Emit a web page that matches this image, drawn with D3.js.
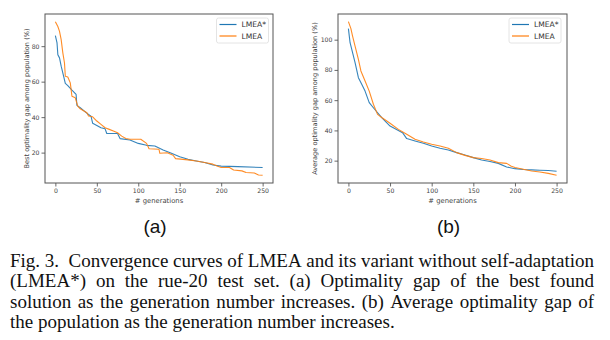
<!DOCTYPE html>
<html><head><meta charset="utf-8">
<script src="https://cdn.jsdelivr.net/npm/d3@7"></script>
<style>
body{margin:0;background:#fff;}
svg{display:block;}
</style></head>
<body>
<svg id="fig" width="610" height="340"></svg>
<script>
// ---------- data ----------
const seriesNames = ["LMEA*", "LMEA"];
const xTicks = [0, 50, 100, 150, 200, 250];
const yTicksA = [20, 40, 60, 80];
const yTicksB = [20, 40, 60, 80, 100];
// (a) best optimality gap  [generation, value]
const bestLMEAstar = [[0,85.9],[2,81.8],[3,75.2],[5,73.4],[7,68.7],[10,63],[12,59],[15,57.8],[20,55.2],[25,52.8],[26,46.6],[30,45.3],[35,43.4],[40,41.5],[43,40.5],[45,36.5],[50,35.3],[55,34],[60,33.4],[62,30.8],[75,30.8],[78,27.9],[90,27.1],[100,25.2],[110,24.1],[120,23.7],[130,21.5],[140,19.6],[150,17.7],[160,16.2],[170,15.3],[180,14.4],[190,13],[200,12.4],[220,12.1],[250,11.6]];
const bestLMEA = [[0,93.8],[3,91.1],[5,88.3],[7,83.7],[9,76.2],[11,70.5],[12,63],[15,62.6],[18,59.3],[20,51.8],[24,50.9],[27,46.2],[30,44.7],[38,42.5],[40,40.6],[45,40.2],[50,37.8],[55,35.9],[60,34],[65,33.1],[70,32.2],[75,31.2],[80,29.3],[85,28],[90,27.5],[103,27.5],[110,25.2],[113,22.2],[125,21.9],[126,19.6],[135,19.9],[142,18.5],[145,16.6],[160,15.9],[170,15.3],[180,14.4],[190,13.5],[195,12.5],[200,11.6],[210,11.6],[215,10.2],[225,9.7],[230,8.8],[240,8.5],[245,7.4],[250,7.2]];
// (b) average optimality gap
const avgLMEAstar = [[0,107.3],[2,98],[5,91.4],[8,84.8],[12,74.9],[16,70.5],[20,66],[25,58.4],[30,55],[40,48.5],[50,42.9],[60,40],[65,38.5],[70,34.6],[80,33],[90,31.5],[100,29.7],[110,28.2],[120,27],[130,25.3],[140,23.7],[150,22],[160,20.4],[170,19.4],[180,18.2],[190,15.8],[200,14.7],[210,14.1],[220,13.9],[230,13.7],[240,13.5],[250,13]];
const avgLMEA = [[0,111.9],[3,107.3],[5,102.4],[8,95.8],[12,87],[15,79.3],[20,72.7],[25,66],[30,57.3],[35,50.6],[40,48.5],[50,44.7],[60,40.7],[70,37.4],[80,34.1],[90,32.3],[100,30.8],[110,29.7],[120,28.2],[130,25.3],[140,23.5],[150,22],[160,21.4],[170,20.4],[180,18.7],[190,18.2],[195,16.5],[200,15.5],[210,14.3],[220,13.2],[230,12.5],[240,11.6],[250,10.3]];
const xLabel = "# generations";
const yLabelA = "Best optimality gap among population (%)";
const yLabelB = "Average optimality gap among population (%)";
const subLabels = ["(a)", "(b)"];
const captionLines = [
  "Fig. 3.\u00a0\u00a0Convergence curves of LMEA and its variant without self-adaptation",
  "(LMEA*) on the rue-20 test set. (a) Optimality gap of the best found",
  "solution as the generation number increases. (b) Average optimality gap of",
  "the population as the generation number increases."
];
const colors = ["#1f77b4", "#ff7f0e"];

// ---------- drawing ----------
const svg = d3.select("#fig");
const tickFont = "DejaVu Sans, sans-serif";

function panel(cfg) {
  const g = svg.append("g");
  const {left, right, top, bottom} = cfg.box;
  const all = cfg.series.flat();
  const ext = d3.extent(all, d => d[1]);
  const pad = (ext[1] - ext[0]) * 0.05;
  const x = d3.scaleLinear().domain([-12.5, 262.5]).range([left, right]);
  const y = d3.scaleLinear().domain([ext[0] - pad, ext[1] + pad]).range([bottom, top]);

  const xAxis = d3.axisBottom(x).tickValues(xTicks).tickSize(3.5).tickPadding(2);
  const yAxis = d3.axisLeft(y).tickValues(cfg.yTicks).tickSize(3.5).tickPadding(2);
  const gx = g.append("g").attr("transform", `translate(0,${bottom})`).call(xAxis);
  const gy = g.append("g").attr("transform", `translate(${left},0)`).call(yAxis);
  [gx, gy].forEach(a => {
    a.select(".domain").remove();
    a.selectAll(".tick line").attr("stroke", "#444").attr("stroke-width", 0.8);
    a.selectAll(".tick text").attr("fill", "#444").attr("font-family", tickFont).attr("font-size", 6.2);
  });

  // lines
  const line = d3.line().x(d => x(d[0])).y(d => y(d[1]));
  const clipId = "clip" + cfg.id;
  g.append("clipPath").attr("id", clipId).append("rect")
    .attr("x", left).attr("y", top).attr("width", right - left).attr("height", bottom - top);
  cfg.series.forEach((s, i) => {
    g.append("path").datum(s).attr("d", line).attr("fill", "none")
      .attr("stroke", colors[i]).attr("stroke-width", 1.1).attr("stroke-opacity", 0.9)
      .attr("stroke-linejoin", "round").attr("clip-path", `url(#${clipId})`);
  });

  // frame
  g.append("rect").attr("x", left).attr("y", top).attr("width", right - left).attr("height", bottom - top)
    .attr("fill", "none").attr("stroke", "#555").attr("stroke-width", 1);

  // axis labels
  g.append("text").attr("x", (left + right) / 2).attr("y", 203).attr("text-anchor", "middle")
    .attr("font-family", tickFont).attr("font-size", 6.8).attr("fill", "#444").text(xLabel);
  g.append("text").attr("transform", `translate(${cfg.yLabelX},${(top + bottom) / 2}) rotate(-90)`)
    .attr("text-anchor", "middle").attr("font-family", tickFont).attr("font-size", 6.6)
    .attr("fill", "#444").text(cfg.yLabel);

  // legend
  const lg = g.append("g").attr("transform", `translate(${cfg.legendX},18)`);
  lg.append("rect").attr("x", 0).attr("y", 0).attr("width", 52).attr("height", 25).attr("rx", 2)
    .attr("fill", "#fff").attr("fill-opacity", 0.8).attr("stroke", "#ddd").attr("stroke-width", 0.8);
  seriesNames.forEach((n, i) => {
    const yy = 6.5 + i * 11.5;
    lg.append("line").attr("x1", 3).attr("x2", 20).attr("y1", yy).attr("y2", yy)
      .attr("stroke", colors[i]).attr("stroke-width", 1.2);
    lg.append("text").attr("x", 25).attr("y", yy + 2.7).attr("font-family", tickFont)
      .attr("font-size", 7.6).attr("fill", "#333").text(n);
  });

  // sub label
  svg.append("text").attr("x", (left + right) / 2 - 4).attr("y", 233).attr("text-anchor", "middle")
    .attr("font-family", "Liberation Sans, Arial, sans-serif").attr("font-size", 19).attr("fill", "#111")
    .text(cfg.sub);
}

panel({id: "a", box: {left: 45, right: 273, top: 14, bottom: 183}, series: [bestLMEAstar, bestLMEA],
  yTicks: yTicksA, yLabel: yLabelA, yLabelX: 29, legendX: 216.5, sub: subLabels[0]});
panel({id: "b", box: {left: 338, right: 567, top: 14, bottom: 183}, series: [avgLMEAstar, avgLMEA],
  yTicks: yTicksB, yLabel: yLabelB, yLabelX: 317, legendX: 509, sub: subLabels[1]});

// caption: justified lines
const capLeft = 10, capRight = 594, capSize = 19;
const baselines = [266.5, 287.3, 307.8, 328.3];
const cap = svg.append("g").attr("font-family", "Liberation Serif, Times New Roman, serif")
  .attr("font-size", capSize).attr("fill", "#111");
function measure(s) {
  const t = cap.append("text").text(s);
  const w = t.node().getComputedTextLength();
  t.remove();
  return w;
}
const spW = measure("a a") - 2 * measure("a");
captionLines.forEach((ln, li) => {
  const words = ln.split(" ");
  const widths = words.map(measure);
  const total = d3.sum(widths);
  const last = li === captionLines.length - 1;
  let gap = last ? spW : (capRight - capLeft - total) / (words.length - 1);
  let sx = 1;
  if (gap < spW * 0.6) { gap = spW * 0.6; sx = (capRight - capLeft - gap * (words.length - 1)) / total; }
  let xx = capLeft;
  words.forEach((w, i) => {
    cap.append("text").attr("x", xx).attr("y", baselines[li]).text(w)
      .attr("textLength", sx !== 1 ? widths[i] * sx : null)
      .attr("lengthAdjust", sx !== 1 ? "spacingAndGlyphs" : null);
    xx += widths[i] * sx + gap;
  });
});
</script>
</body></html>
